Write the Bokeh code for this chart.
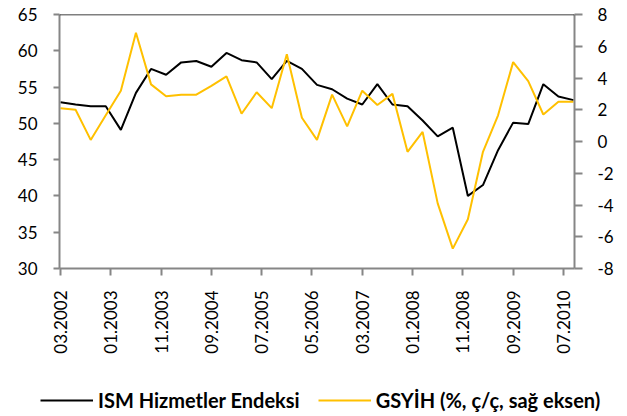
from bokeh.plotting import figure
from bokeh.models import Range1d, LinearAxis, FixedTicker, Span, Legend, LegendItem
from bokeh.embed import file_html
from bokeh.resources import INLINE

# Quarterly observations (end-of-quarter month)
periods = ["03.2002", "06.2002", "09.2002", "12.2002",
           "03.2003", "06.2003", "09.2003", "12.2003",
           "03.2004", "06.2004", "09.2004", "12.2004",
           "03.2005", "06.2005", "09.2005", "12.2005",
           "03.2006", "06.2006", "09.2006", "12.2006",
           "03.2007", "06.2007", "09.2007", "12.2007",
           "03.2008", "06.2008", "09.2008", "12.2008",
           "03.2009", "06.2009", "09.2009", "12.2009",
           "03.2010", "06.2010", "09.2010"]

ism = [52.9, 52.6, 52.35, 52.35,
       49.1, 54.2, 57.5, 56.7,
       58.4, 58.6, 57.8, 59.7,
       58.7, 58.4, 56.1, 58.6,
       57.5, 55.3, 54.7, 53.4,
       52.6, 55.4, 52.6, 52.35,
       50.4, 48.2, 49.4, 40.0,
       41.5, 46.3, 50.1, 49.9,
       55.4, 53.7, 53.2]

gdp = [2.1, 2.0, 0.1, 1.65,
       3.2, 6.85, 3.6, 2.85,
       2.95, 2.95, 3.5, 4.1,
       1.75, 3.1, 2.1, 5.5,
       1.5, 0.1, 2.95, 0.95,
       3.2, 2.3, 3.0, -0.65,
       0.6, -3.9, -6.75, -4.9,
       -0.65, 1.65, 5.0, 3.8,
       1.7, 2.5, 2.5]

tick_labels = ["03.2002", "01.2003", "11.2003", "09.2004", "07.2005", "05.2006",
               "03.2007", "01.2008", "11.2008", "09.2009", "07.2010"]

left_ticks = [30, 35, 40, 45, 50, 55, 60, 65]
right_ticks = [-8, -6, -4, -2, 0, 2, 4, 6, 8]
right_tick_labels = ["-8", "-6", "-4", "-2", "0", "2", "4", "6", "8"]

series_names = ["ISM Hizmetler Endeksi", "GSYİH (%, ç/ç, sağ eksen)"]
series_colors = ["black", "#FFC000"]


def month_index(s):
    mm, yy = s.split(".")
    return (int(yy) - 2002) * 12 + int(mm) - 3


x = [month_index(s) for s in periods]
tick_pos = [month_index(s) for s in tick_labels]

FONT = "Lato"
AXIS_GRAY = "#868686"

p = figure(width=627, height=384, output_backend="svg", toolbar_location=None,
           x_range=Range1d(-0.2, 102.2), y_range=Range1d(30, 65),
           min_border_left=59, min_border_right=53, min_border_top=14,
           min_border_bottom=116)
p.extra_y_ranges = {"gdp": Range1d(-8, 8)}
p.outline_line_color = None
p.xgrid.visible = False
p.ygrid.visible = False
p.background_fill_color = "white"
p.border_fill_color = "white"

# x axis
xa = p.xaxis[0]
xa.ticker = FixedTicker(ticks=tick_pos)
xa.major_label_overrides = {t: l for t, l in zip(tick_pos, tick_labels)}
xa.major_label_orientation = 3.14159265 / 2
xa.minor_tick_line_color = None
xa.major_tick_in = 0
xa.major_tick_out = 7
xa.major_label_standoff = 15
xa.axis_line_color = AXIS_GRAY
xa.axis_line_width = 2
xa.major_tick_line_color = AXIS_GRAY
xa.major_tick_line_width = 2
xa.major_label_text_font = FONT
xa.major_label_text_font_size = "17px"
xa.major_label_text_color = "black"

# left axis
ya = p.yaxis[0]
ya.ticker = FixedTicker(ticks=left_ticks)
ya.minor_tick_line_color = None
ya.major_tick_in = 0
ya.major_tick_out = 6
ya.major_label_standoff = 16
ya.axis_line_color = AXIS_GRAY
ya.axis_line_width = 2
ya.major_tick_line_color = AXIS_GRAY
ya.major_tick_line_width = 2
ya.major_label_text_font = FONT
ya.major_label_text_font_size = "17px"
ya.major_label_text_color = "black"

# right axis
ra = LinearAxis(y_range_name="gdp", ticker=FixedTicker(ticks=right_ticks))
ra.major_label_overrides = {t: l for t, l in zip(right_ticks, right_tick_labels)}
ra.minor_tick_line_color = None
ra.major_tick_in = 0
ra.major_tick_out = 8
ra.major_label_standoff = 15
ra.axis_line_color = AXIS_GRAY
ra.axis_line_width = 2
ra.major_tick_line_color = AXIS_GRAY
ra.major_tick_line_width = 2
ra.major_label_text_font = FONT
ra.major_label_text_font_size = "17px"
ra.major_label_text_color = "black"
p.add_layout(ra, "right")

# top border line
p.add_layout(Span(location=65, dimension="width", line_color="black", line_width=1.5))

r1 = p.line(x, ism, line_color=series_colors[0], line_width=2)
r2 = p.line(x, gdp, line_color=series_colors[1], line_width=2, y_range_name="gdp")

# legend strip below the chart (separate root so its frame spans the full width)
p2 = figure(width=627, height=32, output_backend="svg", toolbar_location=None,
            x_axis_location=None, y_axis_location=None,
            x_range=Range1d(0, 1), y_range=Range1d(0, 1),
            min_border_left=0, min_border_right=0, min_border_top=0,
            min_border_bottom=0)
p2.outline_line_color = None
p2.xgrid.visible = False
p2.ygrid.visible = False
p2.border_fill_color = "white"
p2.background_fill_color = "white"
l1 = p2.line(x, ism, line_color=series_colors[0], line_width=2, visible=False)
l2 = p2.line(x, gdp, line_color=series_colors[1], line_width=2, visible=False)

legend = Legend(items=[LegendItem(label=series_names[0], renderers=[l1]),
                       LegendItem(label=series_names[1], renderers=[l2])],
                orientation="horizontal", location=(40, 4),
                glyph_width=53, glyph_height=16, label_standoff=5, spacing=18,
                padding=0, margin=0, border_line_color=None,
                background_fill_alpha=0, inactive_fill_alpha=0,
                label_text_font=FONT,
                label_text_font_style="bold", label_text_font_size="20px",
                label_text_color="black")
p2.add_layout(legend)

open("out.html", "w").write(file_html([p, p2], INLINE))
